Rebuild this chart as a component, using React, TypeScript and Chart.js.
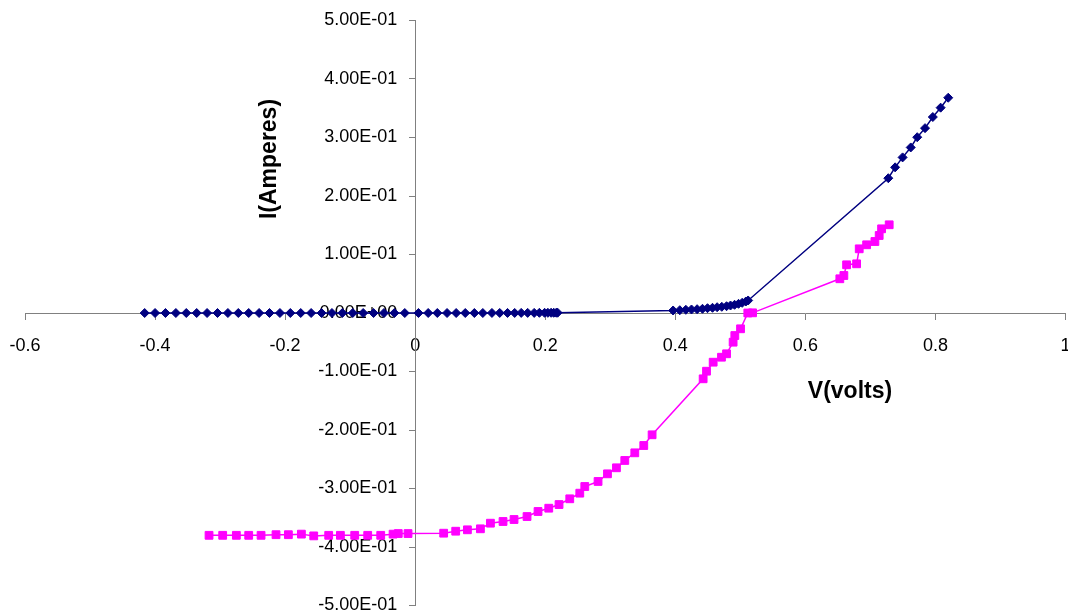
import React, { useEffect, useRef } from "react";
import { Chart, registerables } from "chart.js";

Chart.register(...registerables);

// Series 1 (navy diamonds)
const s1X = [
  -0.416, -0.4, -0.384, -0.368, -0.352, -0.336, -0.32, -0.304, -0.288, -0.272, -0.256, -0.24, -0.224,
  -0.208, -0.192, -0.176, -0.16, -0.144, -0.128, -0.112, -0.096, -0.08, -0.064, -0.048, -0.032, -0.016,
  0.005, 0.02, 0.034, 0.049, 0.063, 0.077, 0.091, 0.104, 0.118, 0.13, 0.142, 0.153, 0.163, 0.173, 0.183,
  0.191, 0.199, 0.204, 0.209, 0.213, 0.217, 0.219,
  0.3966, 0.4069, 0.4162, 0.4249, 0.4335, 0.4418, 0.4495, 0.4572, 0.4643, 0.4715, 0.4788, 0.4849, 0.4911,
  0.4972, 0.5028, 0.5085, 0.512,
  0.7275, 0.738, 0.7495, 0.762, 0.772, 0.784, 0.796, 0.808, 0.8197,
];
const s1Y = [
  0, 0, 0, 0, 0, 0, 0, 0, 0, 0, 0, 0, 0,
  0, 0, 0, 0, 0, 0, 0, 0, 0, 0, 0, 0, 0,
  0, 0, 0, 0, 0, 0, 0, 0, 0.0001, 0.0001, 0.0001, 0.0001, 0.0002, 0.0002, 0.0002,
  0.0003, 0.0003, 0.0003, 0.0004, 0.0004, 0.0005, 0.0005,
  0.0043, 0.0048, 0.0055, 0.006, 0.0065, 0.0072, 0.0082, 0.0089, 0.0099, 0.0106, 0.0116, 0.0128, 0.014,
  0.0157, 0.0174, 0.0197, 0.0214,
  0.2304, 0.249, 0.266, 0.283, 0.3005, 0.316, 0.335, 0.351, 0.368,
];

// Series 2 (magenta squares)
const s2X = [
  -0.317, -0.296, -0.275, -0.256, -0.237, -0.214, -0.195, -0.175, -0.156, -0.133, -0.115, -0.093, -0.073,
  -0.053, -0.034, -0.026, -0.011,
  0.0438, 0.0623, 0.0803, 0.1003, 0.1157, 0.1351, 0.152, 0.172, 0.1889, 0.2054, 0.2212, 0.2377, 0.2531,
  0.2608, 0.2812, 0.2957, 0.3095, 0.3223, 0.3377, 0.3515, 0.3643,
  0.4428, 0.448, 0.4582, 0.471, 0.4788, 0.4889, 0.4915, 0.5003, 0.5115, 0.5188,
  0.653, 0.6592, 0.6634, 0.6788, 0.6828, 0.6942, 0.7069, 0.7135, 0.7172, 0.7289,
];
const s2Y = [
  -0.38, -0.38, -0.38, -0.38, -0.38, -0.379, -0.379, -0.378, -0.381, -0.38, -0.38, -0.38, -0.38,
  -0.38, -0.378, -0.377, -0.377,
  -0.3764, -0.373, -0.3706, -0.3689, -0.3593, -0.3564, -0.353, -0.3479, -0.3393, -0.3337, -0.3274, -0.3176,
  -0.308, -0.2966, -0.288, -0.2749, -0.2646, -0.2521, -0.239, -0.2265, -0.2082,
  -0.1125, -0.0995, -0.0841, -0.0756, -0.0697, -0.0499, -0.0385, -0.027, 0.0, 0.0003,
  0.0585, 0.0641, 0.0824, 0.0841, 0.1097, 0.1166, 0.1222, 0.1325, 0.1439, 0.1508,
];

const xTitle = "V(volts)";
const yTitle = "I(Amperes)";

function sci(v: number): string {
  if (Math.abs(v) < 1e-12) return "0.00E+00";
  const s = v.toExponential(2);
  const [m, e] = s.split("e");
  const n = parseInt(e, 10);
  const sign = n < 0 ? "-" : "+";
  const abs = Math.abs(n);
  return m + "E" + sign + (abs < 10 ? "0" + abs : String(abs));
}

const titlesPlugin = {
  id: "axisTitles",
  afterDraw(chart: any) {
    const ctx = chart.ctx;
    ctx.save();
    ctx.fillStyle = "#000";
    ctx.font = 'bold 23px "Liberation Sans", Arial, sans-serif';
    ctx.textAlign = "center";
    ctx.textBaseline = "middle";
    ctx.fillText(xTitle, 850, 392);
    ctx.translate(270, 159);
    ctx.rotate(-Math.PI / 2);
    ctx.fillText(yTitle, 0, 0);
    ctx.restore();
  },
};

// move the y tick labels away from the centred axis line
const yLabelShift = {
  id: "yLabelShift",
  beforeDraw(chart: any) {
    const s = chart.scales.y;
    if (!s || !s.getLabelItems) return;
    const items = s.getLabelItems();
    items.forEach((it: any) => {
      if (!it.__shifted) {
        it.options.translation[0] -= 18;
        it.__shifted = true;
      }
    });
  },
};

const zeroPad = () => ({ left: 0, right: 0, top: 0, bottom: 0 });

export default function App() {
  const ref = useRef<HTMLCanvasElement | null>(null);
  useEffect(() => {
    if (!ref.current) return;
    const font = { family: '"Liberation Sans", Arial, sans-serif', size: 18 };
    const chart = new Chart(ref.current, {
      type: "scatter",
      data: {
        datasets: [
          {
            label: "s1",
            data: s1X.map((x, i) => ({ x, y: s1Y[i] })),
            showLine: true,
            borderColor: "#000080",
            backgroundColor: "#000080",
            borderWidth: 1.5,
            pointStyle: "rectRot",
            pointRadius: 4.5,
            pointBorderWidth: 1,
            pointBorderColor: "#000080",
            pointBackgroundColor: "#000080",
          },
          {
            label: "s2",
            data: s2X.map((x, i) => ({ x, y: s2Y[i] })),
            showLine: true,
            borderColor: "#FF00FF",
            backgroundColor: "#FF00FF",
            borderWidth: 1.5,
            pointStyle: "rect",
            pointRadius: 5.5,
            pointBorderWidth: 1,
            pointBorderColor: "#FF00FF",
            pointBackgroundColor: "#FF00FF",
          },
        ],
      },
      options: {
        animation: false,
        responsive: false,
        maintainAspectRatio: false,
        layout: { autoPadding: false, padding: { left: 25, right: 2.5, top: 20.5, bottom: 10.5 } },
        plugins: { legend: { display: false }, tooltip: { enabled: false } },
        scales: {
          x: {
            type: "linear",
            position: { y: 0 } as any,
            min: -0.6,
            max: 1,
            afterFit: (s: any) => {
              s.height = 0;
              s.paddingLeft = 0;
              s.paddingRight = 0;
              s.getPadding = zeroPad;
            },
            ticks: {
              stepSize: 0.2,
              color: "#000",
              font,
              padding: 16,
              maxRotation: 0,
              autoSkip: false,
              callback: (v: any) => String(Number(Number(v).toFixed(1))),
            },
            grid: { drawOnChartArea: false, drawTicks: true, tickLength: 6, color: "#808080" },
            border: { display: true, color: "#808080", width: 1 },
          },
          y: {
            type: "linear",
            position: { x: 0 } as any,
            min: -0.5,
            max: 0.5,
            afterFit: (s: any) => {
              s.width = 0;
              s.paddingTop = 0;
              s.paddingBottom = 0;
              s.getPadding = zeroPad;
            },
            ticks: {
              stepSize: 0.1,
              color: "#000",
              font,
              autoSkip: false,
              callback: (v: any) => sci(Number(Number(v).toFixed(2))),
            },
            grid: { drawOnChartArea: false, drawTicks: true, tickLength: 6, color: "#808080" },
            border: { display: true, color: "#808080", width: 1 },
          },
        },
      },
      plugins: [titlesPlugin, yLabelShift],
    });
    return () => chart.destroy();
  }, []);
  return (
    <div style={{ position: "absolute", left: 0, top: 0, width: 1068, height: 616, background: "#fff" }}>
      <canvas ref={ref} width={1068} height={616} style={{ display: "block", width: 1068, height: 616 }} />
    </div>
  );
}
